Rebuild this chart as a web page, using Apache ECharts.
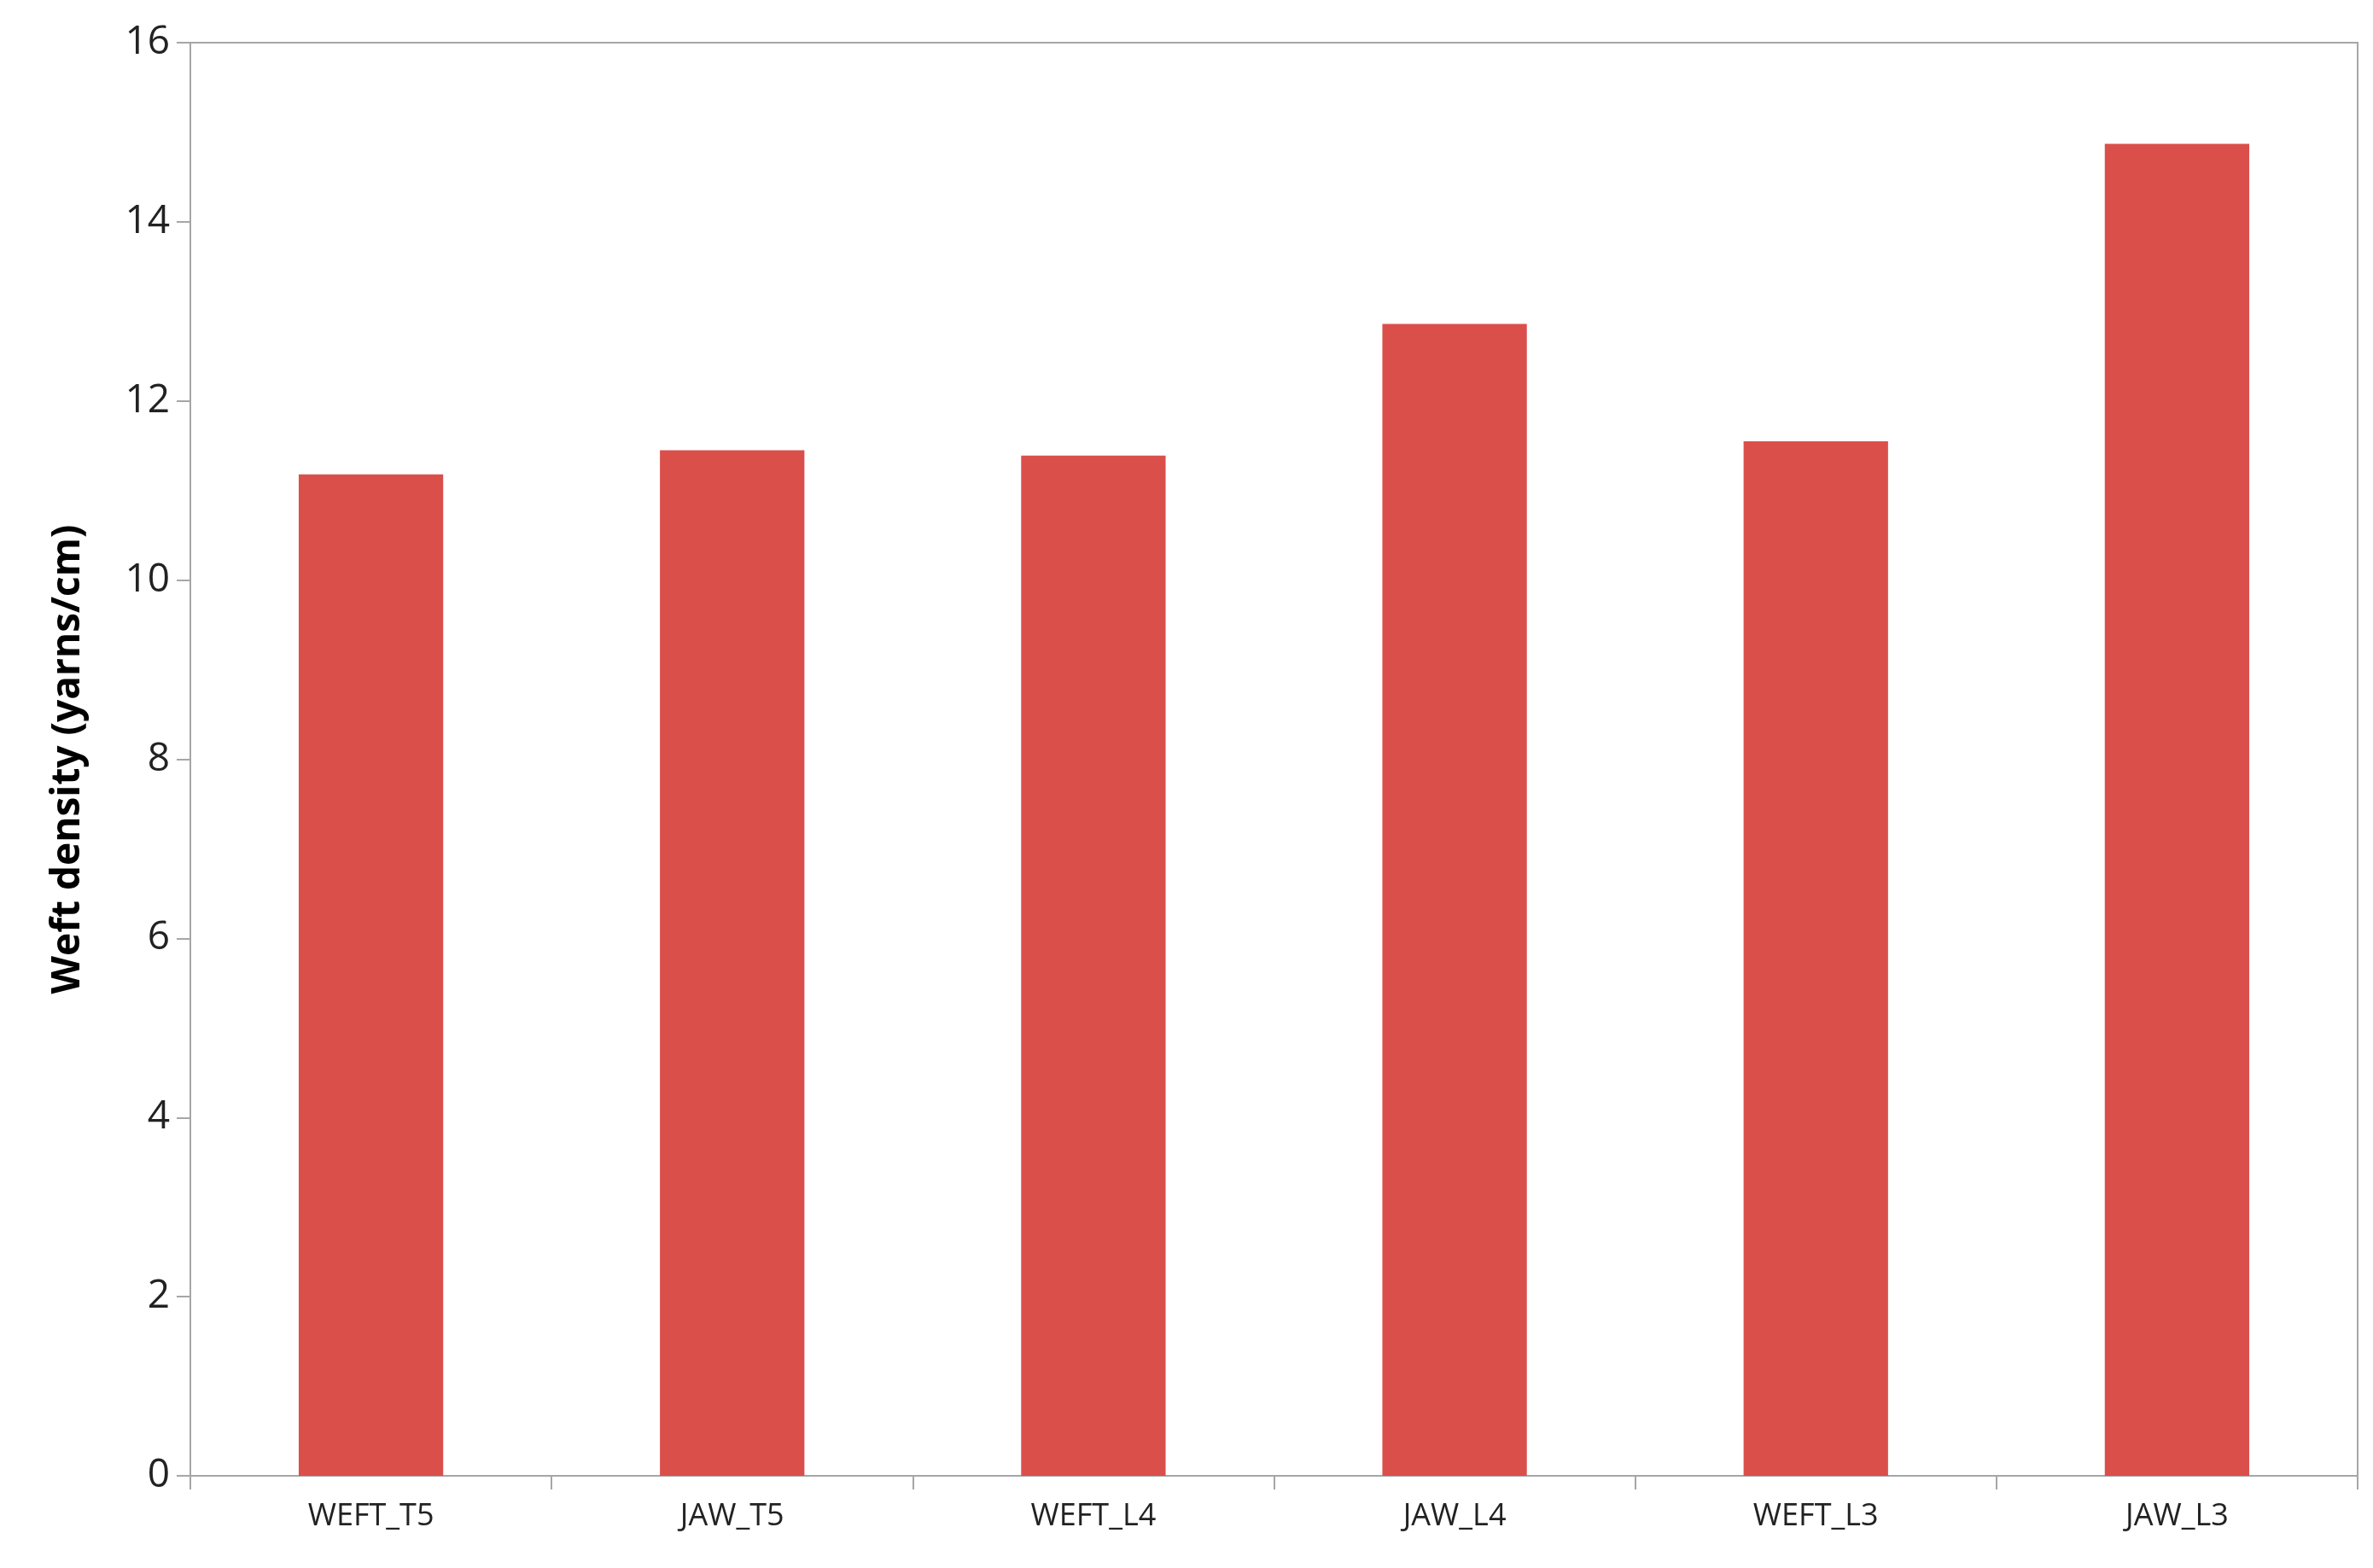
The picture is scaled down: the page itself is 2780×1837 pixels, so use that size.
<!DOCTYPE html>
<html>
<head>
<meta charset="utf-8">
<script src="https://cdn.jsdelivr.net/npm/echarts@6/dist/echarts.min.js"></script>
<style>html,body{margin:0;padding:0;background:#fff}#chart{width:2780px;height:1837px}</style>
</head>
<body>
<div id="chart"></div>
<script>
var categories = ['WEFT_T5', 'JAW_T5', 'WEFT_L4', 'JAW_L4', 'WEFT_L3', 'JAW_L3'];
var weftDensity = [11.18, 11.45, 11.39, 12.86, 11.55, 14.87];

var chart = echarts.init(document.getElementById('chart'));
chart.setOption({
    animation: false,
    grid: {
        left: 223, right: 18, top: 50, bottom: 108,
        show: true, borderColor: '#a6a6a6', borderWidth: 2
    },
    xAxis: {
        type: 'category',
        data: categories,
        axisLine: { lineStyle: { color: '#a6a6a6', width: 2 } },
        axisTick: { show: true, length: 16, lineStyle: { color: '#a6a6a6', width: 2 } },
        axisLabel: { color: '#222', fontSize: 36, fontFamily: 'Open Sans', margin: 30 }
    },
    yAxis: {
        type: 'value',
        min: 0, max: 16, interval: 2,
        name: 'Weft density (yarns/cm)',
        nameLocation: 'middle',
        nameGap: 120,
        nameTextStyle: { color: '#000', fontSize: 46, fontWeight: 'bold', fontFamily: 'Open Sans' },
        splitLine: { show: false },
        axisLine: { show: true, lineStyle: { color: '#a6a6a6', width: 2 } },
        axisTick: { show: true, length: 16, lineStyle: { color: '#a6a6a6', width: 2 } },
        axisLabel: { color: '#222', fontSize: 46, fontFamily: 'Open Sans', margin: 24 }
    },
    series: [{
        type: 'bar',
        data: weftDensity,
        barWidth: '40%',
        itemStyle: { color: '#db4f4b' }
    }]
});
</script>
</body>
</html>
